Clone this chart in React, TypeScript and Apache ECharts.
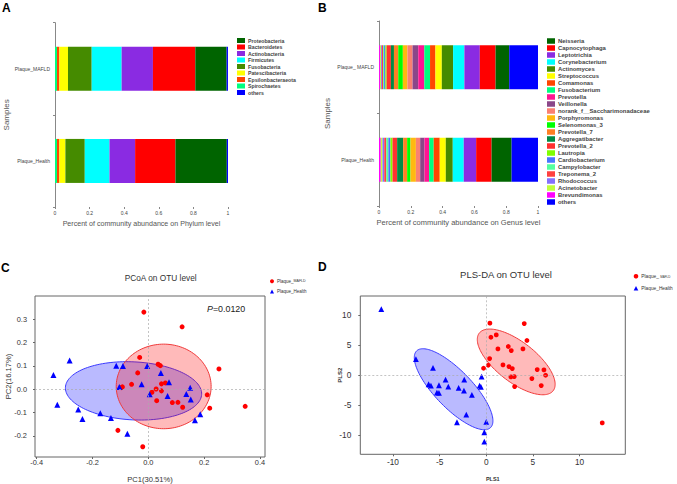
import React, { useEffect, useRef } from "react";
import * as echarts from "echarts";

const FONT = "'Liberation Sans', Arial, Helvetica, sans-serif";

// ---------- Panel A: phylum level ----------
const phylumSamples = ["Plaque_MAFLD", "Plaque_Health"];
const phylumNames = [
  "Proteobacteria", "Bacteroidetes", "Actinobacteria", "Firmicutes", "Fusobacteria",
  "Patescibacteria", "Epsilonbacteraeota", "Spirochaetes", "others",
];
const phylumColors = [
  "#006400", "#ff0000", "#8a2be2", "#00ffff", "#458b00",
  "#ffff00", "#ff4500", "#00ff7f", "#0000ff",
];
const phylumMAFLD = [0.181, 0.245, 0.181, 0.173, 0.137, 0.05, 0.0135, 0.0116, 0.0077];
const phylumHealth = [0.297, 0.233, 0.148, 0.143, 0.112, 0.035, 0.0135, 0.0116, 0.0077];

// ---------- Panel B: genus level ----------
const genusSamples = ["Plaque_ MAFLD", "Plaque_Health"];
const genusNames = [
  "Neisseria", "Capnocytophaga", "Leptotrichia", "Corynebacterium", "Actinomyces",
  "Streptococcus", "Comamonas", "Fusobacterium", "Prevotella", "Veillonella",
  "norank_f__Saccharimonadaceae", "Porphyromonas", "Selenomonas_3", "Prevotella_7",
  "Aggregatibacter", "Prevotella_2", "Lautropia", "Cardiobacterium", "Campylobacter",
  "Treponema_2", "Rhodococcus", "Acinetobacter", "Brevundimonas", "others",
];
const genusColors = [
  "#006400", "#ff0000", "#8a2be2", "#00ffff", "#458b00",
  "#ffff00", "#ff4500", "#00ff7f", "#ff1493", "#8b4789",
  "#fa8072", "#ffb90f", "#00ff00", "#ff7f24",
  "#008b45", "#ff3030", "#7fff00", "#4876ff", "#54ff9f",
  "#ff4040", "#8470ff", "#c0ff3e", "#ff00ff", "#0000ff",
];
const genusMAFLD = [
  0.086, 0.099, 0.097, 0.071, 0.071, 0.04, 0.034, 0.036, 0.038, 0.036,
  0.032, 0.029, 0.029, 0.027, 0.019, 0.027, 0.008, 0.008, 0.006, 0.008,
  0.006, 0.006, 0.006, 0.181,
];
const genusHealth = [
  0.126, 0.097, 0.078, 0.069, 0.044, 0.038, 0.038, 0.029, 0.029, 0.027,
  0.027, 0.034, 0.021, 0.025, 0.038, 0.029, 0.013, 0.013, 0.013, 0.013,
  0.011, 0.011, 0.011, 0.166,
];

// ---------- Panel C: PCoA ----------
const pcoaMAFLD = [
  [-0.016, 0.33], [0.121, 0.267], [-0.031, 0.136], [0.253, 0.087], [0.035, 0.107],
  [0.043, 0.101], [-0.038, 0.07], [-0.06, 0.021], [-0.093, 0.01], [-0.097, 0.007],
  [0.047, 0.023], [0.061, 0.027], [0.028, 0.001], [0.013, -0.013], [0.047, -0.007],
  [0.03, -0.049], [0.086, -0.057], [0.106, -0.056], [0.123, -0.077], [0.211, -0.024],
  [0.22, -0.081], [0.347, -0.073], [-0.109, -0.176], [-0.02, -0.246],
];
const pcoaHealth = [
  [-0.282, 0.123], [-0.34, 0.061], [-0.326, -0.066], [-0.251, -0.087], [-0.236, -0.127],
  [-0.172, -0.103], [-0.134, -0.123], [-0.115, 0.1], [-0.091, 0.099], [-0.104, 0.01],
  [-0.004, 0.099], [-0.024, 0.021], [0.045, 0.07], [0.005, -0.021], [0.074, 0.03],
  [0.069, -0.029], [0.15, 0.006], [0.136, -0.02], [0.152, -0.044], [0.186, -0.107],
  [0.167, -0.133], [-0.075, -0.191],
];
// ellipse: [cx, cy, ux, uy, vx, vy]  (centre and two conjugate semi-axis vectors)
const pcoaEllipseMAFLD = [0.055, 0.012, 0.17, 0, 0, 0.181];
const pcoaEllipseHealth = [-0.053, -0.007, 0.244, -0.015, 0.005, 0.124];
const pcoaXTicks = [-0.4, -0.2, 0, 0.2, 0.4];
const pcoaYTicks = [-0.2, -0.1, 0, 0.1, 0.2, 0.3];

// ---------- Panel D: PLS-DA ----------
const plsMAFLD = [
  [0.39, 8.67], [4.07, 8.61], [0.5, 6.33], [1.07, 6.72], [4.36, 5.78], [1.25, 4.39],
  [2.36, 4.78], [2.68, 4.11], [3.93, 4.39], [0.36, 2.78], [0.21, 1.67], [-0.29, 1.17],
  [1.79, 1.72], [2.43, 1.44], [2.79, 1.11], [5.46, 0.94], [6.18, 0.89], [6.36, 0.0],
  [2.64, -0.28], [3.0, -0.22], [4.89, -0.56], [5.89, -1.72], [3.04, -1.89], [12.43, -7.94],
];
const plsHealth = [
  [-11.25, 11.0], [-7.54, 2.67], [-5.71, 1.22], [-6.18, -1.5], [-5.93, -1.72], [-5.07, -1.67],
  [-4.36, -0.72], [-4.07, -1.89], [-5.29, -2.89], [-5.07, -2.94], [-2.96, -2.11], [-2.36, -0.72],
  [-2.39, -2.56], [-1.54, -3.28], [-0.5, -0.22], [-0.71, -1.72], [-0.57, -1.94], [-2.14, -6.56],
  [-3.14, -7.83], [0.0, -7.78], [-0.21, -9.5], [-0.21, -11.06],
];
const plsEllipseMAFLD = [3.21, 2.22, 3.96, -4.8, 1.31, 2.63];
const plsEllipseHealth = [-3.5, -2.33, 3.96, -6.39, 1.44, 2.16];
const plsTicks = [-10, -5, 0, 5, 10];

const RED = "#ff0000";
const BLUE = "#0000ff";

function ellipseSeries(e: number[], idx: number, fill: string, stroke: string) {
  return {
    type: "custom",
    coordinateSystem: "cartesian2d",
    xAxisIndex: idx,
    yAxisIndex: idx,
    silent: true,
    z: 1,
    clip: true,
    encode: { x: 0, y: 1 },
    data: [e],
    renderItem: (_p: any, api: any) => {
      const v = [0, 1, 2, 3, 4, 5].map((k) => api.value(k));
      const pts: number[][] = [];
      const N = 140;
      for (let k = 0; k < N; k++) {
        const t = (2 * Math.PI * k) / N;
        pts.push(
          api.coord([
            v[0] + v[2] * Math.cos(t) + v[4] * Math.sin(t),
            v[1] + v[3] * Math.cos(t) + v[5] * Math.sin(t),
          ])
        );
      }
      return {
        type: "polygon",
        shape: { points: pts },
        style: { fill, stroke, lineWidth: 1 },
      };
    },
  };
}

function stackOrder(n: number) {
  const arr: number[] = [];
  for (let i = n - 2; i >= 0; i--) arr.push(i);
  arr.push(n - 1);
  return arr;
}

function barSeries(names: string[], colors: string[], a: number[], b: number[], idx: number, stack: string) {
  return stackOrder(names.length).map((i) => ({
    type: "bar",
    name: names[i],
    stack,
    xAxisIndex: idx,
    yAxisIndex: idx,
    barWidth: 44,
    data: [a[i], b[i]],
    itemStyle: { color: colors[i] },
    emphasis: { disabled: true },
  }));
}

function barXAxis(idx: number, name: string, nameGap: number, nameSize: number) {
  return {
    type: "value",
    gridIndex: idx,
    min: 0,
    max: 1,
    interval: 0.2,
    axisLine: { show: false, onZero: false },
    axisTick: { show: true, length: 2, lineStyle: { color: "#888" } },
    axisLabel: { fontSize: 5, color: "#444", margin: 3, fontFamily: FONT },
    splitLine: { show: false },
    name,
    nameLocation: "middle",
    nameGap,
    nameMoveOverlap: false,
    nameTextStyle: { fontSize: nameSize, color: "#555555", fontWeight: "normal", fontFamily: FONT },
  };
}

function barYAxis(idx: number, data: string[], nameGap: number) {
  return {
    type: "category",
    gridIndex: idx,
    data,
    inverse: true,
    axisLine: { show: true, onZero: false, lineStyle: { color: "#888", width: 1 } },
    axisTick: { show: true, length: 2, lineStyle: { color: "#888" } },
    axisLabel: { fontSize: 5, color: "#444", margin: 5, fontFamily: FONT },
    name: "Samples",
    nameLocation: "middle",
    nameGap,
    nameMoveOverlap: false,
    nameTextStyle: { fontSize: 8, color: "#555555", fontFamily: FONT },
  };
}

function scatterAxis(
  idx: number,
  min: number,
  max: number,
  ticks: number[],
  fmt: (v: number) => string,
  labelSize: number,
  margin: number,
  name: string,
  nameGap: number,
  nameSize: number,
  nameBold: boolean
) {
  return {
    type: "value",
    gridIndex: idx,
    min,
    max,
    axisLine: { show: false, onZero: false },
    axisTick: { show: true, length: 2, customValues: ticks, lineStyle: { color: "#666" } },
    axisLabel: {
      customValues: ticks,
      formatter: fmt,
      fontSize: labelSize,
      color: "#333",
      margin,
      fontFamily: FONT,
    },
    splitLine: { show: false },
    name,
    nameLocation: "middle",
    nameGap,
    nameMoveOverlap: false,
    nameTextStyle: {
      fontSize: nameSize,
      color: "#333",
      fontFamily: FONT,
      fontWeight: nameBold ? "bold" : "normal",
    },
  };
}

function scatter(name: string, data: number[][], idx: number, symbol: string, size: number, color: string, zeroLines: boolean) {
  const s: any = {
    type: "scatter",
    name,
    xAxisIndex: idx,
    yAxisIndex: idx,
    symbol,
    symbolSize: size,
    data,
    z: 3,
    itemStyle: { color, opacity: 1 },
    emphasis: { disabled: true },
  };
  if (zeroLines) {
    s.markLine = {
      silent: true,
      symbol: "none",
      label: { show: false },
      animation: false,
      lineStyle: { type: [2, 2], color: "#aaa", width: 0.7 },
      data: [{ xAxis: 0 }, { yAxis: 0 }],
    };
  }
  return s;
}

const letter = (t: string, x: number, y: number) => ({
  type: "text",
  x,
  y,
  style: { text: t, fontSize: 12, fontWeight: "bold", fill: "#000", fontFamily: FONT, verticalAlign: "middle", textVerticalAlign: "middle" },
});

const option: any = {
  animation: false,
  backgroundColor: "#ffffff",
  textStyle: { fontFamily: FONT },
  grid: [
    { left: 55, top: 22.7, width: 173, height: 184.3, outerBoundsMode: "none" },
    { left: 379, top: 21, width: 159, height: 185, outerBoundsMode: "none" },
    { left: 35, top: 296, width: 230, height: 161, show: true, borderColor: "#666", borderWidth: 1, outerBoundsMode: "none" },
    { left: 360.3, top: 296, width: 265, height: 158.3, show: true, borderColor: "#666", borderWidth: 1, outerBoundsMode: "none" },
  ],
  xAxis: [
    barXAxis(0, "Percent of community abundance on Phylum level", 13, 7.1),
    barXAxis(1, "Percent of community abundance on Genus level", 12, 7.5),
    scatterAxis(2, -0.406, 0.418, pcoaXTicks, (v) => v.toFixed(1), 7.4, 2, "PC1(30.51%)", 18, 7.6, false),
    scatterAxis(3, -13.5, 14.9, plsTicks, (v) => String(v), 8.3, 4, "PLS1", 22, 5.5, true),
  ],
  yAxis: [
    barYAxis(0, phylumSamples, 45),
    barYAxis(1, genusSamples, 48),
    scatterAxis(2, -0.29, 0.399, pcoaYTicks, (v) => v.toFixed(1), 7.4, 8, "PC2(16.17%)", 23, 7.6, false),
    scatterAxis(3, -13.17, 13.2, plsTicks, (v) => String(v), 8.3, 9, "PLS2", 17, 6, true),
  ],
  legend: [
    {
      orient: "vertical",
      left: 237,
      top: 38,
      padding: 0,
      itemWidth: 8,
      itemHeight: 5,
      itemGap: 1.5,
      icon: "rect",
      selectedMode: false,
      data: phylumNames,
      textStyle: { fontSize: 5.2, fontWeight: "bold", color: "#444", lineHeight: 5, fontFamily: FONT, padding: [0, 0, 0, -2] },
    },
    {
      orient: "vertical",
      left: 547,
      top: 38,
      padding: 0,
      itemWidth: 8,
      itemHeight: 5.5,
      itemGap: 1.0,
      icon: "rect",
      selectedMode: false,
      data: genusNames,
      textStyle: { fontSize: 5.9, fontWeight: "bold", color: "#444", lineHeight: 5.5, fontFamily: FONT, padding: [0, 0, 0, -2] },
    },
    {
      orient: "vertical",
      left: 270,
      top: 278.7,
      padding: 0,
      itemWidth: 4,
      itemHeight: 4,
      itemGap: 5.3,
      selectedMode: false,
      data: ["Plaque_MAFLD", "Plaque_Health"],
      formatter: (n: string) => (n === "Plaque_MAFLD" ? "{a|Plaque_}{b|MAFLD}" : "{a|" + n + "}"),
      textStyle: {
        fontSize: 4.5,
        lineHeight: 4,
        color: "#333",
        fontFamily: FONT,
        padding: [0, 0, 0, -2],
        rich: { a: { fontSize: 4.5, color: "#333" }, b: { fontSize: 3.6, color: "#333" } },
      },
    },
    {
      orient: "vertical",
      left: 633.7,
      top: 273.7,
      padding: 0,
      itemWidth: 4.6,
      itemHeight: 4.6,
      itemGap: 7,
      selectedMode: false,
      data: ["Plaque_ MAFLD", "Plaque_Health"],
      formatter: (n: string) => (n === "Plaque_ MAFLD" ? "{a|Plaque_ }{b|MAFLD}" : "{a|" + n + "}"),
      textStyle: {
        fontSize: 4.8,
        lineHeight: 4.6,
        color: "#333",
        fontFamily: FONT,
        padding: [0, 0, 0, -2],
        rich: { a: { fontSize: 4.8, color: "#333" }, b: { fontSize: 3, color: "#333" } },
      },
    },
  ],
  graphic: [
    letter("A", 2, 7.5),
    letter("B", 318, 7.5),
    letter("C", 1, 268),
    letter("D", 318, 266.7),
    { type: "text", x: 160.7, y: 278, style: { text: "PCoA on OTU level", fontSize: 8.3, fill: "#333", fontFamily: FONT, align: "center", textAlign: "center", verticalAlign: "middle", textVerticalAlign: "middle" } },
    { type: "text", x: 506, y: 274, style: { text: "PLS-DA on OTU level", fontSize: 9.5, fill: "#333", fontFamily: FONT, align: "center", textAlign: "center", verticalAlign: "middle", textVerticalAlign: "middle" } },
    {
      type: "text",
      x: 207,
      y: 308.7,
      z: 10,
      style: {
        text: "{i|P}{n|=0.0120}",
        fontFamily: FONT,
        verticalAlign: "middle",
        textVerticalAlign: "middle",
        rich: {
          i: { fontSize: 8.9, fontStyle: "italic", fill: "#222", fontFamily: FONT },
          n: { fontSize: 8.9, fill: "#222", fontFamily: FONT },
        },
      },
    },
  ],
  series: [
    ...barSeries(phylumNames, phylumColors, phylumMAFLD, phylumHealth, 0, "phylum"),
    ...barSeries(genusNames, genusColors, genusMAFLD, genusHealth, 1, "genus"),
    ellipseSeries(pcoaEllipseHealth, 2, "rgba(0,0,255,0.27)", "#3a3aff"),
    ellipseSeries(pcoaEllipseMAFLD, 2, "rgba(255,0,0,0.27)", "#f03a3a"),
    scatter("Plaque_MAFLD", pcoaMAFLD, 2, "circle", 5, RED, true),
    scatter("Plaque_Health", pcoaHealth, 2, "triangle", 6, BLUE, false),
    ellipseSeries(plsEllipseHealth, 3, "rgba(0,0,255,0.27)", "#3a3aff"),
    ellipseSeries(plsEllipseMAFLD, 3, "rgba(255,0,0,0.27)", "#f03a3a"),
    scatter("Plaque_ MAFLD", plsMAFLD, 3, "circle", 4.8, RED, true),
    scatter("Plaque_Health", plsHealth, 3, "triangle", 5.8, BLUE, false),
  ],
};

export default function App() {
  const ref = useRef<HTMLDivElement>(null);
  useEffect(() => {
    if (!ref.current) return;
    const chart = echarts.init(ref.current, null, { renderer: "svg" });
    chart.setOption(option);
    return () => chart.dispose();
  }, []);
  return (
    <div
      ref={ref}
      style={{ position: "absolute", left: 0, top: 0, width: 677, height: 484, background: "#fff" }}
    />
  );
}
